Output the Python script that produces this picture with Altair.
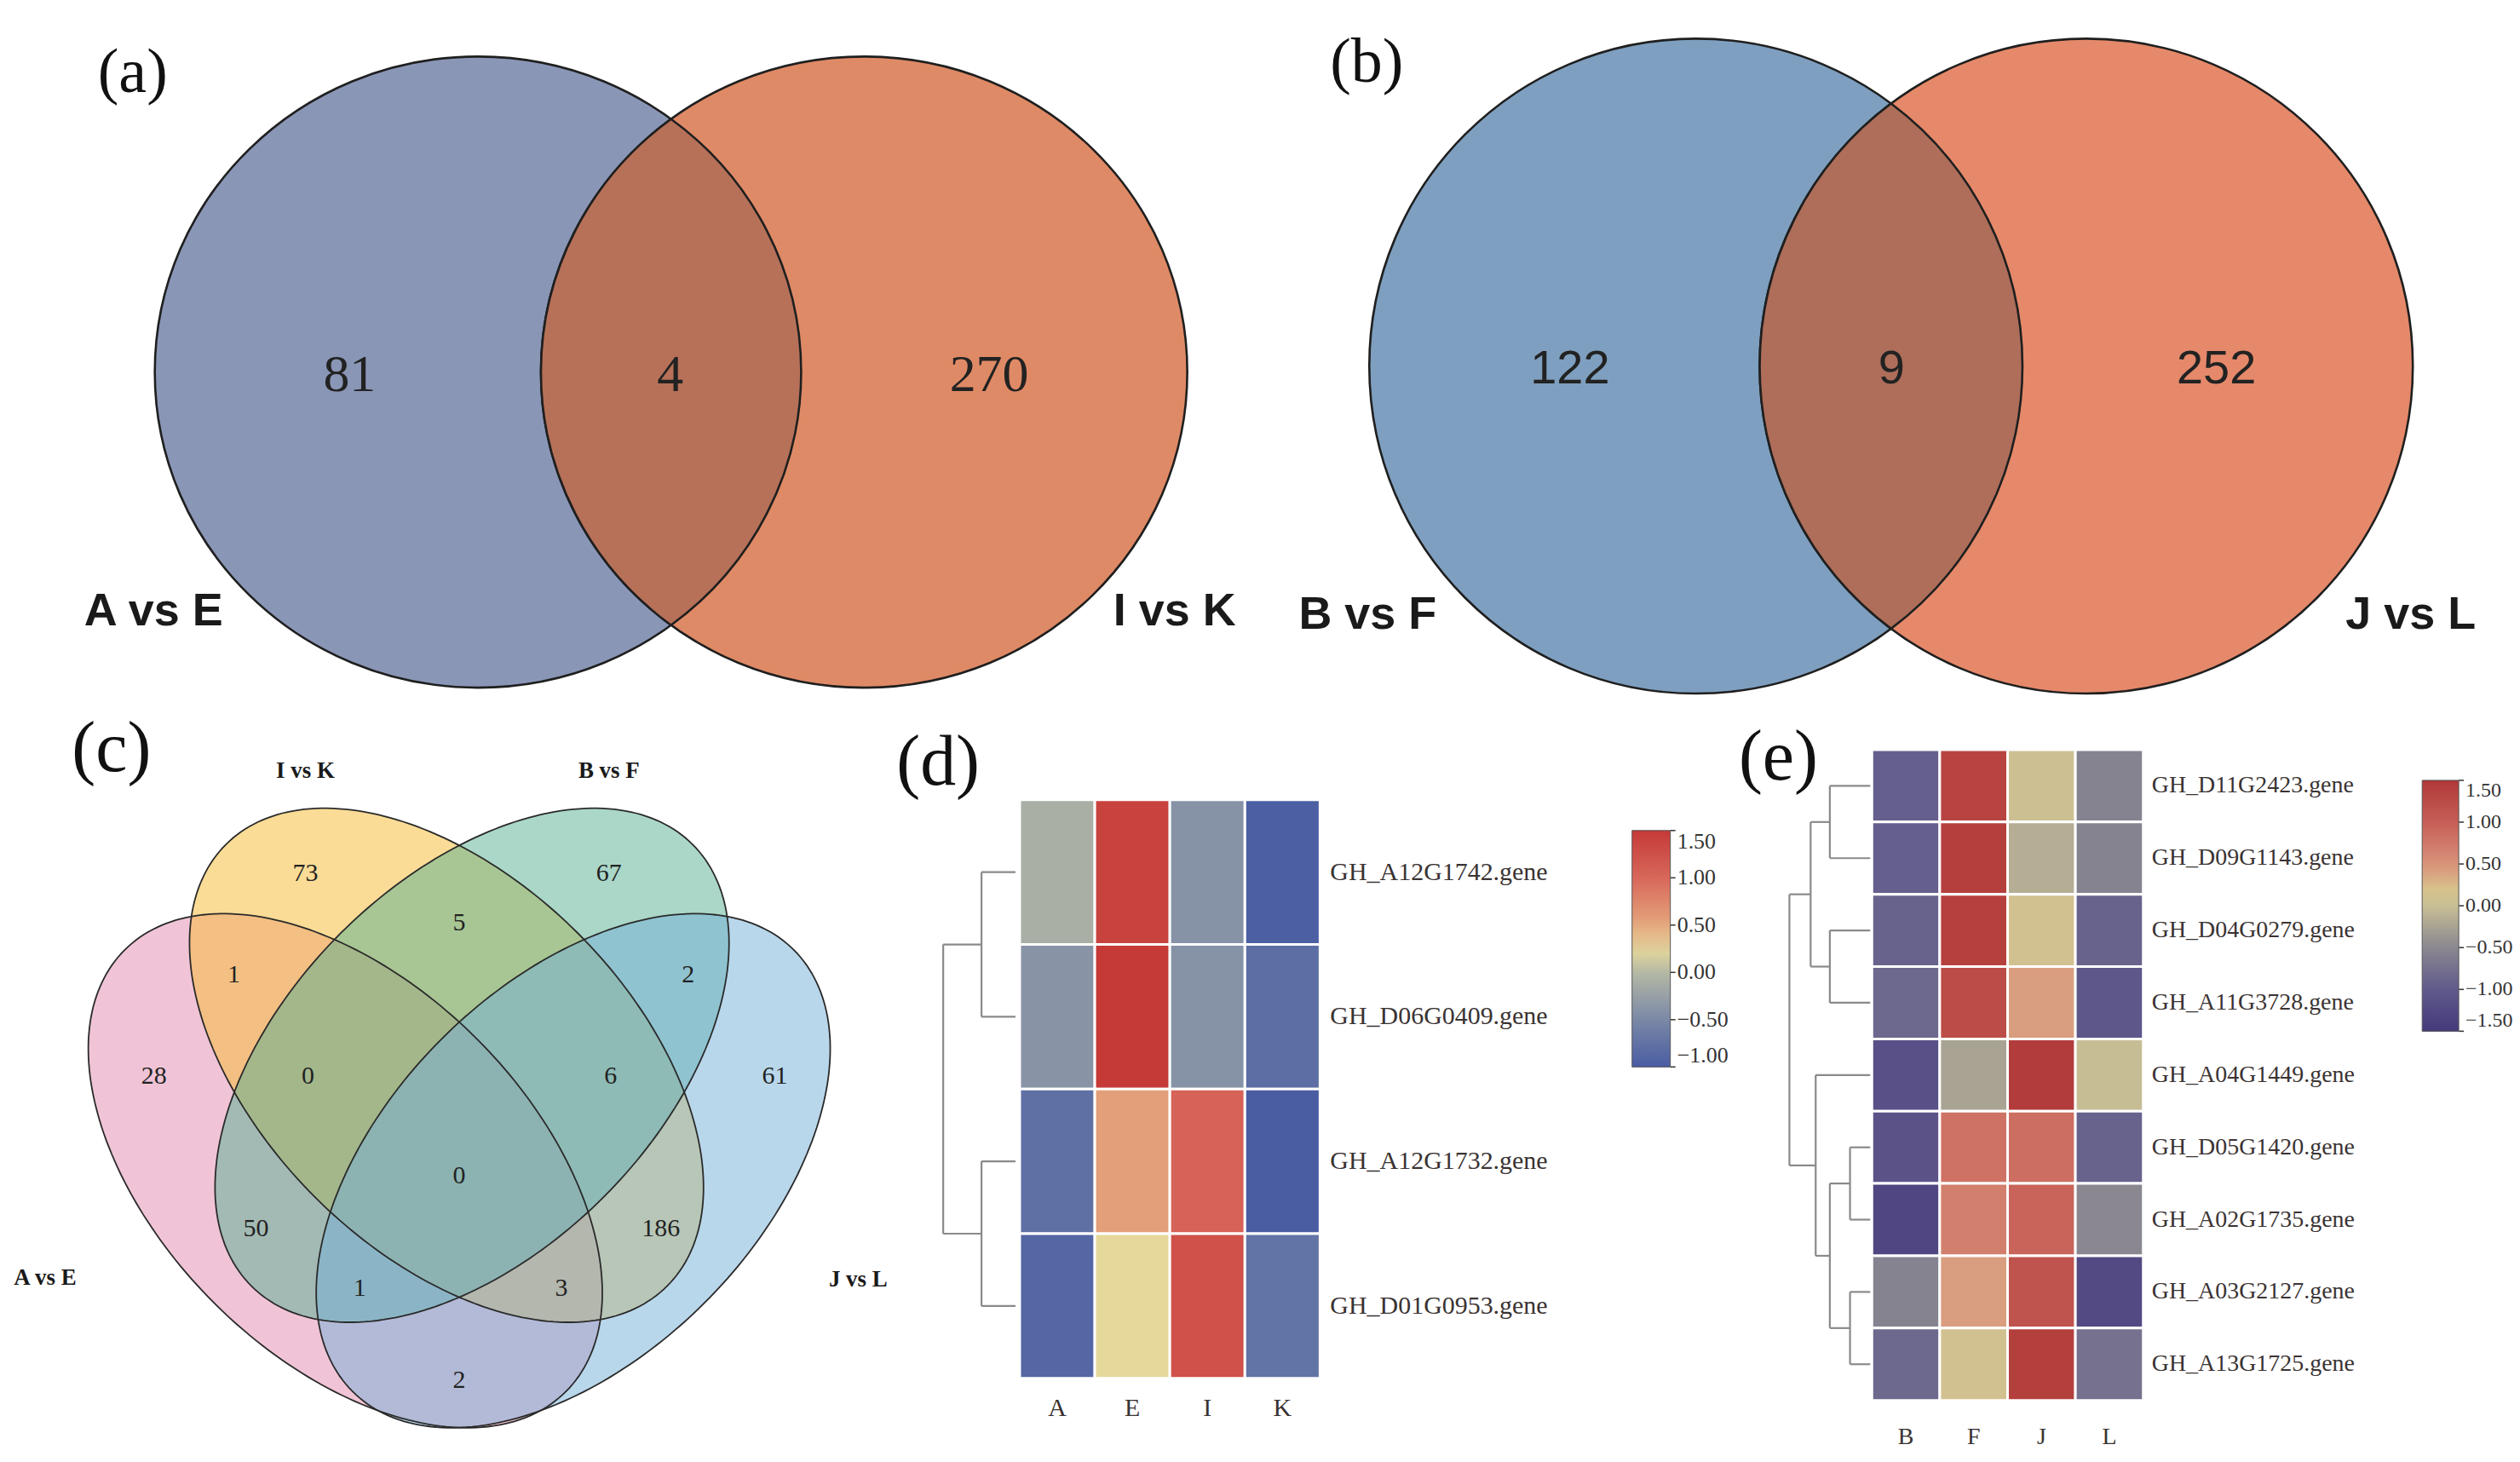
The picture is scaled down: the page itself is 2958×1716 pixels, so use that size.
import numpy as np
import pandas as pd
import altair as alt

W, H = 2942, 1700

# ---------------- data ----------------
a_sets = ["A vs E", "I vs K"]
a_counts = [81, 4, 270]          # only A vs E, both, only I vs K
b_sets = ["B vs F", "J vs L"]
b_counts = [122, 9, 252]          # only B vs F, both, only J vs L

c_sets = ["A vs E", "I vs K", "B vs F", "J vs L"]
c_regions = ["I", "B", "I&B", "A&I", "B&J", "A", "A&I&B", "I&B&J", "J",
             "A&I&B&J", "A&B", "I&J", "A&B&J", "A&I&J", "A&J"]
c_counts = [73, 67, 5, 1, 2, 28, 0, 6, 61, 0, 50, 186, 1, 3, 2]

d_genes = ["GH_A12G1742.gene", "GH_D06G0409.gene", "GH_A12G1732.gene", "GH_D01G0953.gene"]
d_samples = ["A", "E", "I", "K"]
d_values = [[-0.10, 1.40, -0.40, -0.98],
            [-0.38, 1.50, -0.40, -0.80],
            [-0.78, 0.55, 1.05, -1.00],
            [-0.90, 0.25, 1.25, -0.75]]
d_merges = [(0, 1, 0.94), (2, 3, 0.94), (4, 5, 2.0)]
d_ticks = [-1.0, -0.5, 0.0, 0.5, 1.0, 1.5]

e_genes = ["GH_D11G2423.gene", "GH_D09G1143.gene", "GH_D04G0279.gene", "GH_A11G3728.gene",
           "GH_A04G1449.gene", "GH_D05G1420.gene", "GH_A02G1735.gene", "GH_A03G2127.gene",
           "GH_A13G1725.gene"]
e_samples = ["B", "F", "J", "L"]
e_values = [[-0.95, 1.35, 0.05, -0.55],
            [-0.95, 1.40, -0.15, -0.55],
            [-0.90, 1.38, 0.12, -0.90],
            [-0.85, 1.25, 0.42, -1.05],
            [-1.15, -0.25, 1.45, -0.02],
            [-1.10, 0.80, 0.85, -0.90],
            [-1.30, 0.68, 0.95, -0.50],
            [-0.55, 0.42, 1.15, -1.25],
            [-0.85, 0.12, 1.40, -0.75]]
e_merges = [(0, 1, 2.0), (2, 3, 2.0), (5, 6, 1.0), (7, 8, 1.0), (11, 12, 2.0),
            (4, 13, 2.7), (9, 10, 2.95), (15, 14, 4.0)]
e_ticks = [-1.5, -1.0, -0.5, 0.0, 0.5, 1.0, 1.5]

# ---------------- styles / layout ----------------
SERIF = "Liberation Serif"
SANS = "Liberation Sans"
XS = alt.Scale(domain=[0, W], range=[0, W], zero=False, nice=False)
YS = alt.Scale(domain=[0, H], range=[0, H], zero=False, nice=False)

def pos(df):
    return dict(x=alt.X("px:Q", scale=XS, axis=None), y=alt.Y("py:Q", scale=YS, axis=None))

def ellipse_path(rx, ry, s):
    a, b = rx / s, ry / s
    return f"M{-a:.4f},0A{a:.4f},{b:.4f} 0 1,1 {a:.4f},0A{a:.4f},{b:.4f} 0 1,1 {-a:.4f},0Z"

def lens_path(rx, ry, d, s):
    # two ellipses with same radii, centres 2d apart horizontally
    dy = ry * np.sqrt(max(0.0, 1 - (d / rx) ** 2))
    a, b, h = rx / s, ry / s, dy / s
    return f"M0,{-h:.4f}A{a:.4f},{b:.4f} 0 0,0 0,{h:.4f}A{a:.4f},{b:.4f} 0 0,0 0,{-h:.4f}Z"

def sym(px, py, shape, s, **mk):
    df = pd.DataFrame({"px": [px], "py": [py]})
    return alt.Chart(df).mark_point(shape=shape, size=(2 * s) ** 2, **mk).encode(**pos(df))

def texts(xs, ys, labels, **mk):
    df = pd.DataFrame({"px": xs, "py": ys, "t": [str(v) for v in labels]})
    return alt.Chart(df).mark_text(**mk).encode(text="t:N", **pos(df))

layers = []

# ---------- two-set Venns (a) and (b) ----------
def two_venn(cl, cr, cy, rx, ry, cols, counts, num_x, num_y, num_font, num_size):
    s = 400
    return [
        sym(cl, cy, ellipse_path(rx, ry, s), s, filled=True, fill=cols[0], stroke="#1f1f1f",
            strokeWidth=2.6, opacity=1),
        sym(cr, cy, ellipse_path(rx, ry, s), s, filled=True, fill=cols[1], stroke="#1f1f1f",
            strokeWidth=2.6, opacity=1),
        sym((cl + cr) / 2, cy, lens_path(rx, ry, (cr - cl) / 2, s), s, filled=True, fill=cols[2],
            stroke="#1f1f1f", strokeWidth=2.6, opacity=1),
        texts(num_x, [num_y] * 3, counts, font=num_font, fontSize=num_size, color="#222",
              align="center", baseline="middle"),
    ]

layers += two_venn(554, 1008, 428, 380, 371, ["#8A96B6", "#DF8A66", "#B77159"], a_counts,
                   [403, 780, 1155], 431, SERIF, 62)
layers += two_venn(1986, 2445, 421, 384, 385, ["#7E9FBF", "#E5896A", "#AE6E5A"], b_counts,
                   [1838, 2216, 2598], 424, SANS, 56)
layers.append(texts([91], [726], [a_sets[0]], font=SANS, fontSize=54, fontWeight="bold",
                    color="#1a1a1a", align="left", baseline="alphabetic"))
layers.append(texts([1445], [726], [a_sets[1]], font=SANS, fontSize=54, fontWeight="bold",
                    color="#1a1a1a", align="right", baseline="alphabetic"))
layers.append(texts([1519], [730], [b_sets[0]], font=SANS, fontSize=54, fontWeight="bold",
                    color="#1a1a1a", align="left", baseline="alphabetic"))
layers.append(texts([2903], [730], [b_sets[1]], font=SANS, fontSize=54, fontWeight="bold",
                    color="#1a1a1a", align="right", baseline="alphabetic"))

# ---------- four-set Venn (c) ----------
# screen-space ellipses: centre x, centre y, semi-major, semi-minor, tilt (deg, y down), colour
c_ell = [(398, 1367, 367, 219, 45, "#E189AD"),
         (517, 1243, 367, 219, 45, "#F5B92D"),
         (547, 1243, 367, 219, -45, "#55AF91"),
         (666, 1367, 367, 219, -45, "#73AFD7")]
c_shapes = []
for (xc, yc, A, B, rot, col) in c_ell:
    th = np.radians(rot)
    t = np.linspace(0, 2 * np.pi, 241)[:-1]
    dx = A * np.cos(t) * np.cos(th) - B * np.sin(t) * np.sin(th)
    dy = A * np.cos(t) * np.sin(th) + B * np.sin(t) * np.cos(th)
    s = 600
    pts = [f"{xx / s:.4f},{yy / s:.4f}" for xx, yy in zip(dx, dy)]
    c_shapes.append((xc, yc, "M" + "L".join(pts) + "Z", s, col))
for xc, yc, path, s, col in c_shapes:
    layers.append(sym(xc, yc, path, s, filled=True, fill=col, opacity=0.5, strokeWidth=0))
for xc, yc, path, s, col in c_shapes:
    layers.append(sym(xc, yc, path, s, filled=False, stroke="#2a2a2a", strokeWidth=1.8, opacity=1))

c_num_x = [351, 708, 532, 267, 801, 173, 354, 710, 903, 532, 293, 769, 415, 652, 532]
c_num_y = [1017, 1017, 1075, 1137, 1137, 1256, 1256, 1256, 1256, 1373, 1435, 1435, 1505, 1505, 1613]
layers.append(texts(c_num_x, c_num_y, c_counts, font=SERIF, fontSize=30, color="#222",
                    align="center", baseline="middle"))
layers.append(texts([45, 351, 708, 1001], [1493, 897, 897, 1495], c_sets, font=SERIF, fontSize=27,
                    fontWeight="bold", color="#1a1a1a", align="center", baseline="middle"))

# ---------- panel letters ----------
layers.append(texts([148, 1599], [77, 65], ["(a)", "(b)"], font=SERIF, fontSize=74, color="#111",
                    align="center", baseline="middle"))
layers.append(texts([123, 1095, 2083], [872, 888, 882], ["(c)", "(d)", "(e)"], font=SERIF,
                    fontSize=84, color="#111", align="center", baseline="middle"))

venn = alt.layer(*layers)

# ---------- heatmaps ----------
def heatmap(genes, samples, values, xr, yr, dom, cols, ticks, lx, ly, llen, lthk, lfs,
            gx, gfs, cy, cfs):
    rows = []
    for gi, g in enumerate(genes):
        for si, smp in enumerate(samples):
            rows.append({"gene": g, "sample": smp, "value": values[gi][si]})
    df = pd.DataFrame(rows)
    xs = alt.Scale(domain=samples, range=xr, paddingInner=0, paddingOuter=0)
    ys = alt.Scale(domain=genes, range=yr, paddingInner=0, paddingOuter=0)
    rect = alt.Chart(df).mark_rect(stroke="white", strokeWidth=3).encode(
        x=alt.X("sample:N", scale=xs, axis=None),
        y=alt.Y("gene:N", scale=ys, axis=None),
        color=alt.Color("value:Q",
                        scale=alt.Scale(domain=dom, range=cols, interpolate="rgb"),
                        legend=alt.Legend(orient="none", legendX=lx, legendY=ly,
                                          direction="vertical", gradientLength=llen,
                                          gradientThickness=lthk, values=ticks, format=".2f",
                                          title=None, labelFont=SERIF, labelFontSize=lfs,
                                          labelColor="#333", labelOffset=8, padding=0,
                                          gradientStrokeColor="#555", gradientStrokeWidth=1,
                                          labelOverlap=False)),
    )
    glab = alt.Chart(pd.DataFrame({"gene": genes})).mark_text(
        align="left", baseline="middle", font=SERIF, fontSize=gfs, color="#3a3333").encode(
        y=alt.Y("gene:N", axis=None), x=alt.value(gx), text="gene:N")
    clab = alt.Chart(pd.DataFrame({"sample": samples})).mark_text(
        align="center", baseline="middle", font=SERIF, fontSize=cfs, color="#3a3333").encode(
        x=alt.X("sample:N", axis=None), y=alt.value(cy), text="sample:N")
    return alt.layer(rect, glab, clab)

def bar_ticks(ticks, lx, ly, llen, lthk):
    # small tick marks on the right side of the colour bar
    df = pd.DataFrame({"v": ticks})
    return alt.Chart(df).mark_rule(color="#333", strokeWidth=1.5).encode(
        y=alt.Y("v:Q", scale=alt.Scale(domain=[min(ticks), max(ticks)], range=[ly + llen, ly],
                                       zero=False, nice=False), axis=None),
        x=alt.value(lx + lthk), x2=alt.value(lx + lthk + 6))

def dendro(n, merges, xr, yr, hmax):
    ypos = {i: i + 0.5 for i in range(n)}
    hgt = {i: 0.0 for i in range(n)}
    segs = []
    for k, (a, b, h) in enumerate(merges):
        node = n + k
        for c in (a, b):
            segs.append({"x": hgt[c], "x2": h, "y": ypos[c], "y2": ypos[c]})
        segs.append({"x": h, "x2": h, "y": ypos[a], "y2": ypos[b]})
        ypos[node] = (ypos[a] + ypos[b]) / 2
        hgt[node] = h
    df = pd.DataFrame(segs)
    return alt.Chart(df).mark_rule(color="#8a8a8a", strokeWidth=2.2).encode(
        x=alt.X("x:Q", scale=alt.Scale(domain=[0, hmax], range=xr, zero=False, nice=False), axis=None),
        x2="x2:Q",
        y=alt.Y("y:Q", scale=alt.Scale(domain=[0, n], range=yr, zero=False, nice=False), axis=None),
        y2="y2:Q",
    )

heat_d = heatmap(d_genes, d_samples, d_values, [1191, 1544], [931, 1611],
                 [-1.0, -0.5, 0.0, 0.25, 0.5, 1.0, 1.5],
                 ["#4A5DA3", "#7A88A6", "#B5B9A4", "#E6D89A", "#E4A57C", "#D8675A", "#C53A37"],
                 d_ticks, 1911, 967, 278, 45, 26, 1556, 30, 1646, 30)
heat_e = heatmap(e_genes, e_samples, e_values, [2193, 2512], [872, 1637],
                 [-1.5, -1.0, -0.5, 0.0, 0.2, 0.5, 1.0, 1.5],
                 ["#45397A", "#605A8C", "#8A8790", "#C8BF95", "#D8C28C", "#D9917A", "#C65F56", "#B03838"],
                 e_ticks, 2840, 908, 295, 43, 24, 2522, 28, 1680, 28)
tk_d = bar_ticks(d_ticks, 1911, 967, 278, 45)
tk_e = bar_ticks(e_ticks, 2840, 908, 295, 43)
den_d = dendro(len(d_genes), d_merges, [1186, 1101], [931, 1611], 2.0)
den_e = dendro(len(e_genes), e_merges, [2191, 2096], [872, 1637], 4.0)

chart = alt.layer(venn, heat_d, den_d, tk_d, heat_e, den_e, tk_e).resolve_scale(
    x="independent", y="independent", color="independent"
).properties(width=W, height=H, padding=0, background="white").configure_view(stroke="transparent")

chart.save("out.html", embed_options={"renderer": "svg", "actions": False})
